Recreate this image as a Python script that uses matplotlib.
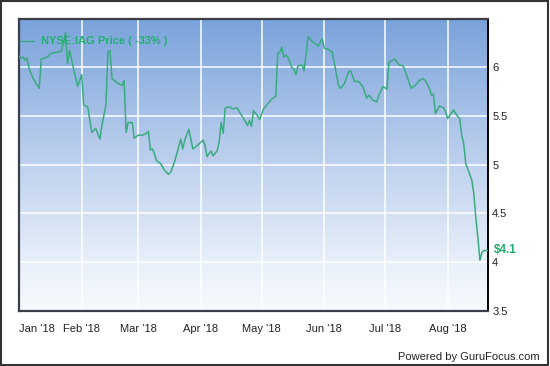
#!/usr/bin/env python3
"""NYSE:IAG price, Jan - Aug 2018 (GuruFocus style)."""

import matplotlib

matplotlib.use("Agg")
import matplotlib.pyplot as plt
import numpy as np
import pandas as pd
from matplotlib.colors import LinearSegmentedColormap
from matplotlib.patches import Rectangle

plt.rcParams["font.family"] = ["Liberation Sans", "DejaVu Sans"]

dates = [
    "2018-01-01", "2018-01-02", "2018-01-03", "2018-01-04", "2018-01-05", "2018-01-06",
    "2018-01-08", "2018-01-11", "2018-01-12", "2018-01-15", "2018-01-17", "2018-01-20",
    "2018-01-22", "2018-01-24", "2018-01-25", "2018-01-26", "2018-01-28", "2018-01-30",
    "2018-02-01", "2018-02-02", "2018-02-04", "2018-02-06", "2018-02-08", "2018-02-10",
    "2018-02-11", "2018-02-13", "2018-02-14", "2018-02-15", "2018-02-16", "2018-02-19",
    "2018-02-21", "2018-02-22", "2018-02-23", "2018-02-24", "2018-02-26", "2018-02-27",
    "2018-03-01", "2018-03-03", "2018-03-05", "2018-03-06", "2018-03-07", "2018-03-08",
    "2018-03-09", "2018-03-10", "2018-03-12", "2018-03-14", "2018-03-16", "2018-03-17",
    "2018-03-19", "2018-03-22", "2018-03-23", "2018-03-24", "2018-03-26", "2018-03-28",
    "2018-03-30", "2018-04-02", "2018-04-03", "2018-04-04", "2018-04-06", "2018-04-07",
    "2018-04-09", "2018-04-10", "2018-04-11", "2018-04-12", "2018-04-13", "2018-04-15",
    "2018-04-17", "2018-04-19", "2018-04-20", "2018-04-23", "2018-04-24", "2018-04-25",
    "2018-04-26", "2018-04-27", "2018-04-29", "2018-04-30", "2018-05-02", "2018-05-04",
    "2018-05-06", "2018-05-08", "2018-05-09", "2018-05-10", "2018-05-11", "2018-05-12",
    "2018-05-13", "2018-05-14", "2018-05-16", "2018-05-17", "2018-05-18", "2018-05-19",
    "2018-05-21", "2018-05-22", "2018-05-24", "2018-05-26", "2018-05-28", "2018-05-29",
    "2018-05-31", "2018-06-01", "2018-06-03", "2018-06-05", "2018-06-08", "2018-06-09",
    "2018-06-11", "2018-06-13", "2018-06-14", "2018-06-16", "2018-06-18", "2018-06-20",
    "2018-06-22", "2018-06-23", "2018-06-25", "2018-06-27", "2018-06-28", "2018-06-30",
    "2018-07-02", "2018-07-03", "2018-07-06", "2018-07-08", "2018-07-10", "2018-07-12",
    "2018-07-14", "2018-07-16", "2018-07-18", "2018-07-20", "2018-07-21", "2018-07-23",
    "2018-07-24", "2018-07-25", "2018-07-26", "2018-07-28", "2018-07-30", "2018-07-31",
    "2018-08-01", "2018-08-04", "2018-08-05", "2018-08-07", "2018-08-08", "2018-08-09",
    "2018-08-10", "2018-08-13", "2018-08-14", "2018-08-15", "2018-08-16", "2018-08-17",
    "2018-08-18", "2018-08-19", "2018-08-21",
]
prices = [
    6.11, 6.09, 6.10, 6.07, 6.09, 5.98,
    5.88, 5.78, 6.08, 6.10, 6.14, 6.15,
    6.16, 6.35, 6.03, 6.17, 5.98, 5.80,
    5.92, 5.61, 5.59, 5.33, 5.37, 5.26,
    5.40, 5.61, 6.15, 6.17, 5.88, 5.83,
    5.81, 5.86, 5.33, 5.43, 5.43, 5.27,
    5.30, 5.30, 5.32, 5.34, 5.15, 5.16,
    5.11, 5.04, 5.01, 4.94, 4.90, 4.92,
    5.03, 5.26, 5.16, 5.25, 5.36, 5.16,
    5.19, 5.25, 5.20, 5.08, 5.14, 5.09,
    5.14, 5.23, 5.43, 5.32, 5.58, 5.59,
    5.57, 5.58, 5.54, 5.44, 5.40, 5.45,
    5.39, 5.55, 5.50, 5.46, 5.57, 5.62,
    5.67, 5.70, 6.14, 6.15, 6.20, 6.10,
    6.12, 6.10, 5.99, 5.98, 5.92, 6.01,
    6.02, 5.96, 6.31, 6.26, 6.23, 6.21,
    6.29, 6.19, 6.18, 6.15, 5.81, 5.78,
    5.83, 5.95, 5.96, 5.85, 5.85, 5.80,
    5.68, 5.71, 5.66, 5.64, 5.71, 5.80,
    5.77, 6.05, 6.08, 6.02, 6.01, 5.90,
    5.78, 5.81, 5.86, 5.88, 5.86, 5.78,
    5.71, 5.72, 5.52, 5.60, 5.58, 5.54,
    5.47, 5.56, 5.52, 5.47, 5.30, 5.21,
    5.01, 4.84, 4.70, 4.45, 4.25, 4.02,
    4.10, 4.12, 4.12,
]
month_ticks = ["2018-02-01", "2018-03-01", "2018-04-01", "2018-05-01",
               "2018-06-01", "2018-07-01", "2018-08-01"]
month_labels = ["Feb '18", "Mar '18", "Apr '18", "May '18", "Jun '18", "Jul '18", "Aug '18"]
first_tick = "2018-01-10"
first_label = "Jan '18"
y_ticks = [3.5, 4, 4.5, 5, 5.5, 6]
legend_label = "NYSE:IAG Price ( -33% )"
last_label = "$4.1"

LINE_COLOR = "#3aaa80"
TEXT_GREEN = "#22b06e"

x = pd.to_datetime(dates)

fig = plt.figure(figsize=(5.5, 3.66), dpi=100)
fig.patch.set_facecolor("white")
fig.add_artist(Rectangle((0.002, 0.004), 0.994, 0.993, transform=fig.transFigure,
                         fill=False, edgecolor="#333333", linewidth=1.5))

ax = fig.add_axes([19 / 550, 55 / 366, 469 / 550, 292 / 366])

# vertical blue-to-white gradient background
cmap = LinearSegmentedColormap.from_list(
    "bg", [(0.0, "#f7fafe"), (0.15, "#eaf1fa"), (0.55, "#b8cdec"), (1.0, "#7aa3db")]
)
grad = np.linspace(0, 1, 256).reshape(-1, 1)
ax.imshow(grad, aspect="auto", cmap=cmap, origin="lower", extent=[0, 1, 0, 1],
          transform=ax.transAxes, zorder=0)

ax.plot(x, prices, color=LINE_COLOR, linewidth=1.1, zorder=3)

ax.set_xlim(pd.Timestamp("2018-01-01"), pd.Timestamp("2018-08-21"))
ax.set_ylim(3.5, 6.49)

ax.set_xticks(pd.to_datetime(month_ticks))
ax.set_xticklabels(month_labels)
ax.set_xticks(pd.to_datetime([first_tick]), minor=True)
ax.set_xticklabels([first_label], minor=True)

ax.yaxis.tick_right()
ax.set_yticks(y_ticks)
ax.set_yticklabels([f"{t:g}" for t in y_ticks])
ax.tick_params(axis="both", which="both", length=0, labelsize=8, colors="#222222")
ax.tick_params(axis="x", which="both", pad=9)
ax.tick_params(axis="y", pad=3)

ax.grid(True, which="major", color="white", linewidth=1.2, alpha=0.9, zorder=1)
for line in ax.get_xgridlines() + ax.get_ygridlines():
    line.set_zorder(1)

for side in ["top", "left", "bottom"]:
    ax.spines[side].set_color("#3a3f4a")
    ax.spines[side].set_linewidth(1.6)
ax.spines["right"].set_color("black")
ax.spines["right"].set_linewidth(1.4)

# legend entry
ax.plot([0.003, 0.032], [0.925, 0.925], transform=ax.transAxes, color=LINE_COLOR,
        linewidth=1.0, zorder=4)
ax.text(0.047, 0.925, legend_label, transform=ax.transAxes, ha="left", va="center",
        fontsize=8, fontweight="bold", color=TEXT_GREEN, zorder=4)

# last price label
ax.text(1.012, prices[-1], last_label, transform=ax.get_yaxis_transform(),
        ha="left", va="center", fontsize=8.5, fontweight="bold", color=TEXT_GREEN)

fig.text(540 / 550, 1 - 357 / 366, "Powered by GuruFocus.com", ha="right", va="center",
         fontsize=8, color="#222222")

fig.savefig("out.png", dpi=100)
